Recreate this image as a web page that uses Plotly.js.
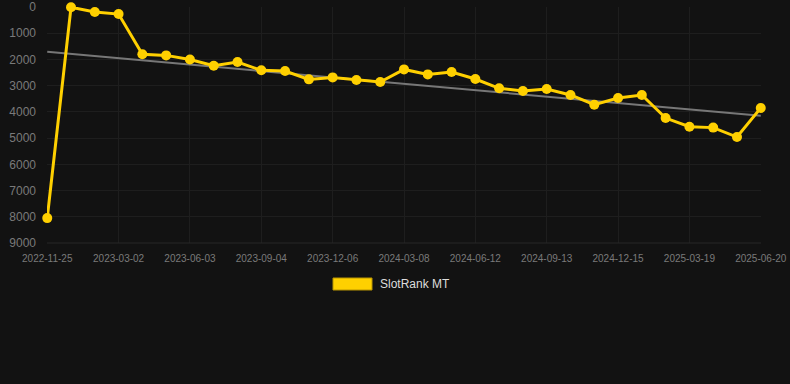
<!DOCTYPE html>
<html>
<head>
<meta charset="utf-8">
<script src="https://cdn.plot.ly/plotly-3.0.1.min.js"></script>
<style>
html,body{margin:0;padding:0;background:#121212;}
#chart{width:790px;height:384px;}
</style>
</head>
<body>
<div id="chart"></div>
<script>
// Data (dates approximate, ~monthly)
const dates = [
  "2022-11-25","2022-12-27","2023-01-28","2023-03-02","2023-04-02","2023-05-03",
  "2023-06-03","2023-07-04","2023-08-04","2023-09-04","2023-10-05","2023-11-05",
  "2023-12-06","2024-01-06","2024-02-06","2024-03-08","2024-04-09","2024-05-11",
  "2024-06-12","2024-07-13","2024-08-13","2024-09-13","2024-10-14","2024-11-14",
  "2024-12-15","2025-01-15","2025-02-16","2025-03-19","2025-04-19","2025-05-20",
  "2025-06-20"
];
const rank = [
  8050, 10, 190, 270, 1800, 1845,
  2000, 2240, 2100, 2415, 2440, 2760,
  2685, 2785, 2860, 2380, 2570, 2480,
  2745, 3100, 3205, 3130, 3355, 3725,
  3470, 3355, 4235, 4565, 4600, 4960,
  3850
];
const trendX = ["2022-11-25", "2025-06-20"];
const trendY = [1710, 4150];
const tickDates = ["2022-11-25","2023-03-02","2023-06-03","2023-09-04","2023-12-06",
  "2024-03-08","2024-06-12","2024-09-13","2024-12-15","2025-03-19","2025-06-20"];
const yTicks = [0,1000,2000,3000,4000,5000,6000,7000,8000,9000];
const seriesName = "SlotRank MT";

const gold = "#FFD000";

const traces = [
  {
    x: trendX, y: trendY, type: "scatter", mode: "lines",
    line: {color: "#777777", width: 2},
    hoverinfo: "skip", showlegend: false, cliponaxis: false
  },
  {
    x: dates, y: rank, type: "scatter", mode: "lines+markers",
    name: seriesName,
    line: {color: gold, width: 3},
    marker: {color: gold, size: 10},
    cliponaxis: false,
    showlegend: false
  }
];

const L = 47, R = 761, T = 7, B = 243;
const W = R - L, H = B - T;

const layout = {
  width: 790, height: 384,
  paper_bgcolor: "#121212", plot_bgcolor: "#121212",
  margin: {l: L, r: 790 - R, t: T, b: 384 - B},
  showlegend: false,
  xaxis: {
    type: "category",
    categoryorder: "array", categoryarray: dates,
    range: [-0.01, 30.01],
    tickmode: "array", tickvals: tickDates, ticktext: tickDates,
    ticklabeloverflow: "allow",
    showgrid: true, gridcolor: "#1e1e1e", gridwidth: 1,
    zeroline: false, showline: false,
    ticks: "", ticklabelstandoff: 8,
    tickfont: {family: "Liberation Sans, Arial, sans-serif", size: 10, color: "#7a7a7a"}
  },
  yaxis: {
    range: [9000, 0],
    tickmode: "array", tickvals: yTicks,
    showgrid: true, gridcolor: "#1e1e1e", gridwidth: 1,
    zeroline: false, showline: false,
    ticks: "", ticklabelstandoff: 10,
    tickfont: {family: "Liberation Sans, Arial, sans-serif", size: 12, color: "#7a7a7a"}
  },
  shapes: [
    {type: "line", xref: "paper", yref: "paper", x0: 0, x1: 1, y0: 0, y1: 0,
     line: {color: "#262626", width: 1}},
    {type: "rect", xref: "paper", yref: "paper",
     x0: (333 - L) / W, x1: (372 - L) / W, y0: (B - 290) / H, y1: (B - 278) / H,
     fillcolor: gold, line: {color: "#b89400", width: 1}}
  ],
  annotations: [
    {xref: "paper", yref: "paper", x: (378 - L) / W, y: (B - 284) / H,
     xanchor: "left", yanchor: "middle", showarrow: false,
     text: seriesName,
     font: {family: "Liberation Sans, Arial, sans-serif", size: 12, color: "#dddddd"}}
  ]
};

Plotly.newPlot("chart", traces, layout, {displayModeBar: false, staticPlot: true});
</script>
</body>
</html>
